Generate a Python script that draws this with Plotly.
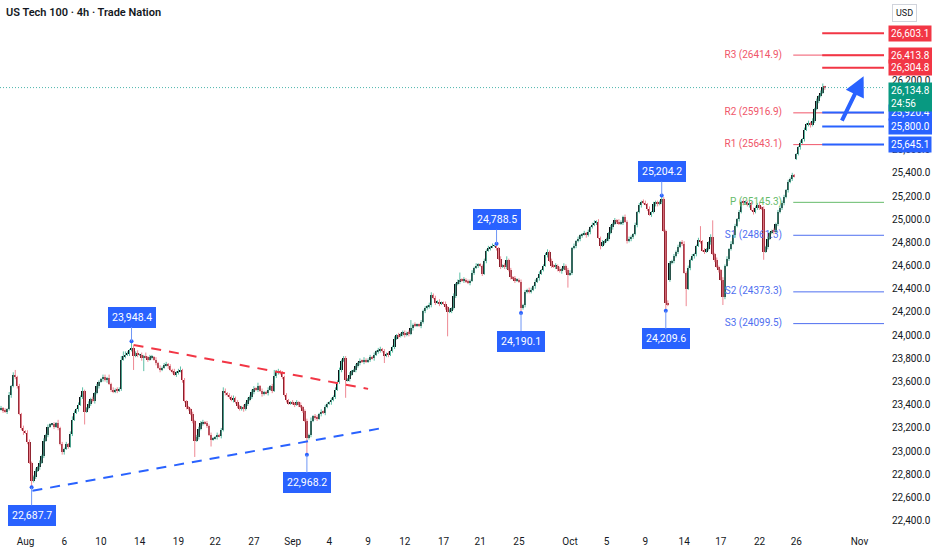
import numpy as np
import pandas as pd
import plotly.graph_objects as go

# 4h closes, one line per trading day (Sunday evening = 1 bar)
closes_jul = [23370, 23350, 23340, 23360, 23480, 23560,
              23660, 23640, 23560, 23320, 23200, 23170]
closes_aug = [23160, 23080, 22900, 22740, 22780, 22830,
              22860,
              22900, 22960, 23090, 23140, 23210, 23230,
              23230, 23210, 23240, 23200, 23060, 22990,
              23020, 23060, 23040, 23150, 23270, 23330,
              23360, 23400, 23470, 23520, 23340, 23370,
              23410, 23450, 23430, 23500, 23560, 23600,
              23620,
              23640, 23610, 23630, 23580, 23530, 23510,
              23530, 23520, 23540, 23790, 23820, 23830,
              23840, 23870, 23890, 23820, 23850, 23830,
              23830, 23800, 23820, 23810, 23790, 23810,
              23810, 23790, 23760, 23720, 23700, 23720,
              23740,
              23750, 23730, 23700, 23690, 23660, 23680,
              23690, 23700, 23610, 23430, 23380, 23360,
              23320, 23260, 23090, 23120, 23190, 23240,
              23250, 23240, 23220, 23140, 23100, 23110,
              23120, 23140, 23130, 23180, 23520, 23500,
              23480,
              23470, 23440, 23460, 23420, 23390, 23360,
              23380, 23360, 23410, 23440, 23470, 23510,
              23540, 23530, 23560, 23520, 23490, 23510,
              23500, 23530, 23560, 23520, 23650, 23680,
              23690, 23670, 23640, 23480, 23440, 23410,
              23420]
closes_sep = [23410, 23400, 23420, 23400, 23380, 23350,
              23260, 23110, 23140, 23260, 23300, 23290,
              23280, 23320, 23340, 23330, 23380, 23410,
              23420, 23440, 23470, 23530, 23600, 23700,
              23780, 23800, 23610, 23620, 23660, 23690,
              23700,
              23730, 23760, 23780, 23770, 23790, 23770,
              23790, 23810, 23800, 23830, 23860, 23870,
              23880, 23860, 23820, 23840, 23830, 23860,
              23900, 23970, 24000, 23990, 24010, 24020,
              24000, 24020, 24010, 24060, 24090, 24080,
              24090,
              24080, 24110, 24210, 24230, 24250, 24260,
              24350, 24320, 24280, 24290, 24270, 24280,
              24270, 24240, 24200, 24210, 24230, 24340,
              24440, 24460, 24480, 24470, 24480, 24460,
              24450, 24470, 24540, 24580, 24600, 24610,
              24600,
              24530, 24640, 24730, 24750, 24760, 24770,
              24770, 24750, 24660, 24590, 24600, 24590,
              24650, 24560, 24500, 24490, 24470, 24480,
              24460, 24230, 24260, 24370, 24390, 24380,
              24390, 24420, 24460, 24490, 24530, 24560,
              24600,
              24690, 24720, 24640, 24600, 24590, 24600,
              24570, 24550, 24570, 24600, 24560, 24520]
closes_oct = [24540, 24750, 24770, 24810, 24830, 24860,
              24870, 24880, 24860, 24890, 24930, 24950,
              24970, 24980, 24840, 24770, 24800, 24810,
              24830,
              24880, 24930, 24960, 24990, 24980, 24960,
              24970, 25020, 24980, 24810, 24830, 24850,
              24870, 24950, 25060, 25120, 25150, 25140,
              25130, 25090, 25040, 25060, 25130, 25150,
              25130, 25150, 25170, 24900, 24280, 24260,
              24620,
              24640, 24680, 24720, 24760, 24800, 24790,
              24540, 24400, 24580, 24650, 24680, 24700,
              24770, 24820, 24810, 24730, 24720, 24740,
              24800, 24850, 24700, 24650, 24590, 24560,
              24480, 24330, 24600, 24660, 24740, 24790,
              24860,
              24940, 25000, 25060, 25150, 25140, 25150,
              25120, 25140, 25080, 25060, 25100, 25120,
              25100, 25090, 24720, 24760, 24830, 24880,
              24900, 24890, 24960, 25060, 25100, 25140,
              25190, 25250, 25320, 25350, 25380, 25370,
              25560,
              25620, 25660, 25690, 25770, 25820, 25830,
              25810, 25850, 25950, 26020, 26060, 26090,
              26140, 26134.8]

# session gaps where the open is not the previous close
gap_opens = {0: 23360, 328: 24480, 390: 25520}

# wick length beyond the body, tens of points, one base-36 char per bar
wick_hi = ("212131 241212 122112 1 212121 121312 121232 121311 212121 1 221312 121343 216212 121312 212121 2 "
           "212121 231211 121222 212121 121232 1 212121 121212 213121 121252 212121 1 "
           "212121 121312 212121 121212 122121 1 212121 121212 212121 121212 212712 1 121212 212121 121212 "
           "126121 212121 1 121212 121212 312121 121212 212121 1 221212 121212 "
           "212121 121212 212121 1 121212 212121 121212 212121 113212 2 121212 212121 12c121 12e121 121212 1 "
           "212121 121212 212121 121212 212121 1 121212 121212 31")
wick_lo = ("121212 122123 121512 1 212121 121212 212121 1212b1 121212 1 212121 121212 121c12 12b121 212121 1 "
           "121212 212121 12e121 212161 121212 1 212121 121212 212121 121212 212121 1 "
           "121212 1e1212 212121 121212 21f121 1 212121 121212 216121 121212 212121 1 121212 212121 12l121 "
           "212121 121212 1 212121 121212 212121 141212 212121 1 121212 21212b "
           "121212 212121 121312 1 212121 121212 212121 121212 212171 2 121212 1f1212 212121 121212 172121 1 "
           "212121 121212 217121 121212 212121 1 121212 212121 12")

# swing labels
swing_bars = [15, 64, 150, 243, 255, 324, 326]
swing_vals = [22687.7, 23948.4, 22968.2, 24788.5, 24190.1, 25204.2, 24209.6]
swing_side = ["low", "high", "low", "high", "low", "high", "low"]

# pivot levels
pivot_names = ["R3", "R2", "R1", "P", "S1", "S2", "S3"]
pivot_vals = [26414.9, 25916.9, 25643.1, 25145.3, 24861.3, 24373.3, 24099.5]
pivot_cols = ["#f0566a", "#f0566a", "#f0566a", "#66bb6a", "#4f6ff0", "#4f6ff0", "#4f6ff0"]

# drawn horizontal rays + their price tags
ray_vals = [26603.1, 26413.8, 26304.8, 25920.4, 25800.0, 25645.1]
ray_cols = ["#f23645", "#f23645", "#f23645", "#2962ff", "#2962ff", "#2962ff"]

# trend lines (bar index, price)
red_line_x, red_line_y = [65, 180], [23916, 23537]
blue_line_x, blue_line_y = [15.4, 187.5], [22658, 23201]
arrow_x, arrow_y = [412, 423], [25837, 26233]

price_ticks = [22400, 22600, 22800, 23000, 23200, 23400, 23600, 23800, 24000, 24200, 24400,
               24600, 24800, 25000, 25200, 25400, 25600, 25800, 26000, 26200, 26400, 26600]
tick_dates = ["2025-08-01", "2025-08-06", "2025-08-10", "2025-08-14", "2025-08-19", "2025-08-22",
              "2025-08-27", "2025-09-01", "2025-09-04", "2025-09-09", "2025-09-12", "2025-09-17",
              "2025-09-21", "2025-09-25", "2025-10-01", "2025-10-05", "2025-10-09", "2025-10-14",
              "2025-10-17", "2025-10-22", "2025-10-26", "2025-11-02"]
tick_text = ["Aug", "6", "10", "14", "19", "22", "27", "Sep", "4", "9", "12", "17",
             "21", "25", "Oct", "5", "9", "14", "17", "22", "26", "Nov"]
countdown = "24:56"

# ---- build bars ----
close = np.array(closes_jul + closes_aug + closes_sep + closes_oct, dtype=float)
n = len(close)
up_w = np.array([int(c, 36) * 10 for c in "".join(wick_hi.split())], dtype=float)
dn_w = np.array([int(c, 36) * 10 for c in "".join(wick_lo.split())], dtype=float)
assert len(up_w) == n and len(dn_w) == n, (n, len(up_w), len(dn_w))

opens = np.r_[np.nan, close[:-1]]
for k, v in gap_opens.items():
    opens[k] = v
top = np.maximum(opens, close)
bot = np.minimum(opens, close)
high = top + up_w
low = bot - dn_w
idx = np.arange(n)
rising = close >= opens

# trading-session calendar for the axis labels
bar_day = []
for d in pd.bdate_range("2025-07-30", "2025-11-07"):
    if d.weekday() == 0:
        bar_day.append(d - pd.Timedelta(days=1))
    bar_day += [d] * 6
tickvals = [bar_day.index(pd.Timestamp(d)) for d in tick_dates]

x_end = 433
fig = go.Figure()

# pivot labels first so candles sit on top of them
fig.add_trace(go.Scatter(x=[383] * len(pivot_vals), y=pivot_vals, mode="text",
                         text=[f"{a} ({b})" for a, b in zip(pivot_names, pivot_vals)],
                         textposition="middle left",
                         textfont=dict(size=10, color=pivot_cols, family="Roboto"),
                         hoverinfo="skip", showlegend=False))

def wick_xy(mask):
    xs, ys = [], []
    for i in np.where(mask)[0]:
        xs += [i, i, None]
        ys += [low[i], high[i], None]
    return xs, ys

for mask, col in [(rising, "#5cbfa6"), (~rising, "#ee8893")]:
    wx, wy = wick_xy(mask)
    fig.add_trace(go.Scatter(x=wx, y=wy, mode="lines", line=dict(color=col, width=1),
                             hoverinfo="skip", showlegend=False))

body_h = np.maximum(top - bot, 6)
for mask, col in [(rising, "#0d1014"), (~rising, "#8b1e2b")]:
    fig.add_trace(go.Bar(x=idx[mask], base=bot[mask], y=body_h[mask], width=0.92,
                         marker=dict(color=col, line=dict(width=0)), showlegend=False))

# swing dots
fig.add_trace(go.Scatter(x=swing_bars, y=swing_vals, mode="markers",
                         marker=dict(size=4, color="#2962ff"), showlegend=False))

# trend lines
fig.add_trace(go.Scatter(x=red_line_x, y=red_line_y, mode="lines",
                         line=dict(color="#f23645", width=2, dash="10px,8px"), showlegend=False))
fig.add_trace(go.Scatter(x=blue_line_x, y=blue_line_y, mode="lines",
                         line=dict(color="#2962ff", width=2, dash="10px,8px"), showlegend=False))

shapes = []
for v, c in zip(pivot_vals, pivot_cols):
    shapes.append(dict(type="line", x0=388.5, x1=x_end, y0=v, y1=v, xref="x", yref="y",
                       line=dict(color=c, width=1), layer="below"))
for v, c in zip(ray_vals, ray_cols):
    shapes.append(dict(type="line", x0=402.7, x1=x_end, y0=v, y1=v, xref="x", yref="y",
                       line=dict(color=c, width=2)))
shapes.append(dict(type="line", x0=0, x1=1, xref="paper", y0=close[-1], y1=close[-1], yref="y",
                   line=dict(color="#4db6ac", width=1, dash="1px,2px")))

ann = []
ann.append(dict(x=0, y=1, xref="paper", yref="paper", xanchor="left", yanchor="top",
                xshift=4, yshift=-4, showarrow=False, text="US Tech 100 · 4h · Trade Nation",
                font=dict(size=11, color="#131722", family="Roboto", weight=600)))
for b, v, s in zip(swing_bars, swing_vals, swing_side):
    ann.append(dict(x=b, y=v, xref="x", yref="y", text=f"{v:,.1f}", showarrow=True,
                    arrowhead=0, arrowwidth=1, arrowcolor="#6f96f5", ax=0,
                    ay=28 if s == "low" else -24, bgcolor="#2962ff", bordercolor="#2962ff",
                    borderpad=3, font=dict(size=10.5, color="white", family="Roboto")))
ann.append(dict(x=arrow_x[1], y=arrow_y[1], ax=arrow_x[0], ay=arrow_y[0], xref="x", yref="y",
                axref="x", ayref="y", showarrow=True, arrowhead=2, arrowsize=1,
                arrowwidth=4, arrowcolor="#2962ff", text=""))
for v, c in zip(ray_vals, ray_cols):
    ann.append(dict(x=1, y=v, xref="paper", yref="y", xanchor="left", xshift=4,
                    text=f"{v:,.1f}", showarrow=False, bgcolor=c, borderpad=2,
                    font=dict(size=10, color="white", family="Roboto")))
ann.append(dict(x=1, y=close[-1], xref="paper", yref="y", xanchor="left", yanchor="top",
                xshift=4, yshift=6, align="left", text=f"{close[-1]:,.1f}<br>{countdown}",
                showarrow=False, bgcolor="#089981", borderpad=2,
                font=dict(size=10, color="white", family="Roboto")))
ann.append(dict(x=1, y=1, xref="paper", yref="paper", xanchor="left", yanchor="top",
                xshift=8, yshift=-4, text="USD", showarrow=False, bgcolor="white",
                bordercolor="#d1d4dc", borderwidth=1, borderpad=3,
                font=dict(size=9, color="#131722", family="Roboto")))

fig.update_layout(
    width=932, height=550,
    margin=dict(l=0, r=48, t=0, b=20),
    plot_bgcolor="white", paper_bgcolor="white",
    barmode="overlay", bargap=0,
    showlegend=False,
    shapes=shapes, annotations=ann,
    xaxis=dict(range=[-0.5, x_end], tickvals=tickvals, ticktext=tick_text,
               showgrid=False, zeroline=False, showline=False, ticks="",
               ticklabelstandoff=4,
               tickfont=dict(size=10, color="#131722", family="Roboto")),
    yaxis=dict(side="right", range=[22320, 26890], tickvals=price_ticks,
               tickformat=",.1f", showgrid=False, zeroline=False, showline=False, ticks="",
               ticklabelstandoff=7,
               tickfont=dict(size=10, color="#131722", family="Roboto")),
)

# drop the page's default body margin so the figure sits at the window's corner
fig.write_html("out.html", config={"displayModeBar": False},
               post_script="document.body.style.margin='0';"
                           "document.body.style.overflow='hidden';")
